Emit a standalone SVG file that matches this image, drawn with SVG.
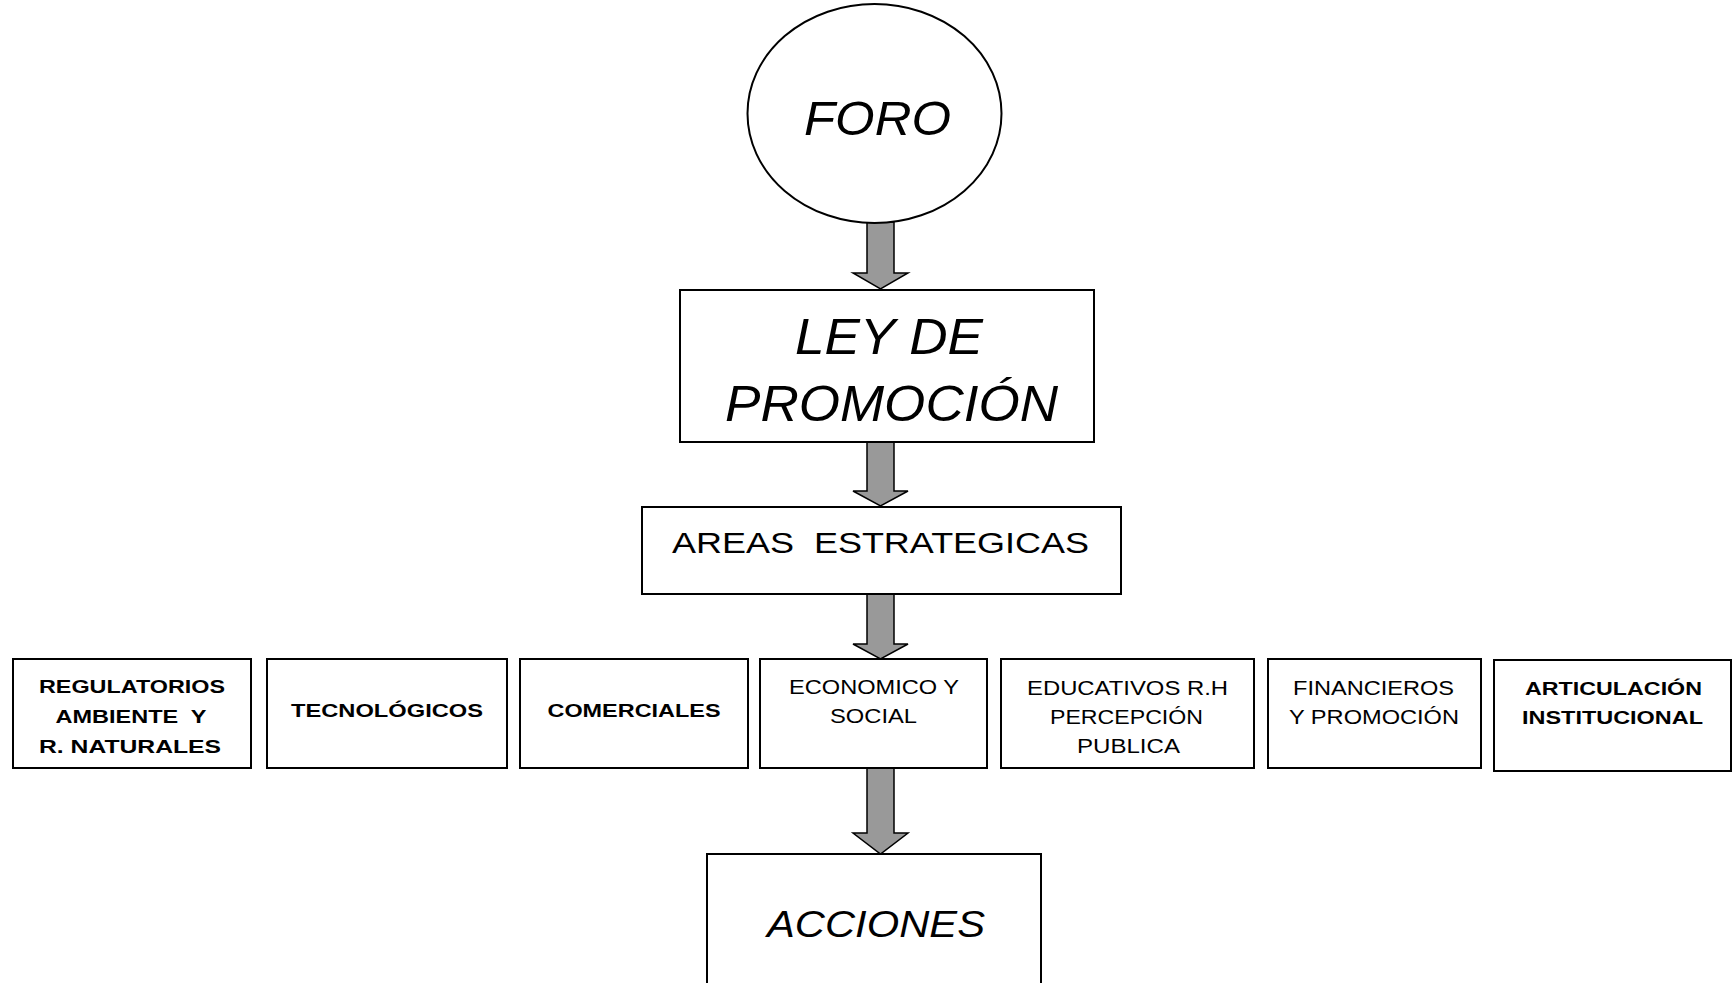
<svg xmlns="http://www.w3.org/2000/svg" width="1735" height="983" viewBox="0 0 1735 983">
<style>
.box{fill:#fff;stroke:#000;stroke-width:2}
.arrow{fill:#999;stroke:#000;stroke-width:1.5;stroke-linejoin:miter}
.big{font-family:"Liberation Sans",Arial,sans-serif;font-style:italic;fill:#000;text-anchor:middle}
.reg{font-family:"Liberation Sans",Arial,sans-serif;font-size:20px;fill:#000;text-anchor:middle}
.bold{font-family:"Liberation Sans",Arial,sans-serif;font-size:18.5px;font-weight:bold;fill:#000;text-anchor:middle}
</style>
<rect width="1735" height="983" fill="#fff"/>
<g id="connectors">
<path class="arrow" d="M867,222 L894,222 L894,273 L908,273 L880.5,289 L853,273 L867,273 Z"/>
<path class="arrow" d="M867,442 L894,442 L894,491 L908,491 L880.5,506 L853,491 L867,491 Z"/>
<path class="arrow" d="M867,594 L894,594 L894,644 L908,644 L880.5,659 L853,644 L867,644 Z"/>
<path class="arrow" d="M867,768 L894,768 L894,833 L908,833 L880.5,854 L853,833 L867,833 Z"/>
</g>
<g id="foro">
<ellipse class="box" cx="874.5" cy="113.5" rx="127" ry="109.5"/>
<text class="big" x="877.5" y="135" font-size="49" textLength="147" lengthAdjust="spacingAndGlyphs">FORO</text>
</g>
<g id="ley">
<rect class="box" x="680" y="290" width="414" height="152"/>
<text class="big" x="889" y="354" font-size="50" textLength="188" lengthAdjust="spacingAndGlyphs" xml:space="preserve">LEY DE</text>
<text class="big" x="891.5" y="421" font-size="50" textLength="333" lengthAdjust="spacingAndGlyphs">PROMOCIÓN</text>
</g>
<g id="areas">
<rect class="box" x="642" y="507" width="479" height="87"/>
<text class="reg" x="880.5" y="553" style="font-size:30px" textLength="417" lengthAdjust="spacingAndGlyphs" xml:space="preserve">AREAS  ESTRATEGICAS</text>
</g>
<g id="regulatorios">
<rect class="box" x="13" y="659" width="238" height="109"/>
<text class="bold" x="132" y="693" textLength="186" lengthAdjust="spacingAndGlyphs">REGULATORIOS</text>
<text class="bold" x="131" y="723" textLength="151" lengthAdjust="spacingAndGlyphs" xml:space="preserve">AMBIENTE  Y</text>
<text class="bold" x="130" y="753" textLength="182" lengthAdjust="spacingAndGlyphs">R. NATURALES</text>
</g>
<g id="tecnologicos">
<rect class="box" x="267" y="659" width="240" height="109"/>
<text class="bold" x="387" y="717" textLength="192" lengthAdjust="spacingAndGlyphs">TECNOLÓGICOS</text>
</g>
<g id="comerciales">
<rect class="box" x="520" y="659" width="228" height="109"/>
<text class="bold" x="634" y="717" textLength="173" lengthAdjust="spacingAndGlyphs">COMERCIALES</text>
</g>
<g id="economico">
<rect class="box" x="760" y="659" width="227" height="109"/>
<text class="reg" x="874" y="694" textLength="170" lengthAdjust="spacingAndGlyphs">ECONOMICO Y</text>
<text class="reg" x="873.5" y="723" textLength="87" lengthAdjust="spacingAndGlyphs">SOCIAL</text>
</g>
<g id="educativos">
<rect class="box" x="1001" y="659" width="253" height="109"/>
<text class="reg" x="1127.5" y="695" textLength="201" lengthAdjust="spacingAndGlyphs">EDUCATIVOS R.H</text>
<text class="reg" x="1126.5" y="724" textLength="153" lengthAdjust="spacingAndGlyphs">PERCEPCIÓN</text>
<text class="reg" x="1128.5" y="753" textLength="103" lengthAdjust="spacingAndGlyphs">PUBLICA</text>
</g>
<g id="financieros">
<rect class="box" x="1268" y="659" width="213" height="109"/>
<text class="reg" x="1373.5" y="695" textLength="161" lengthAdjust="spacingAndGlyphs">FINANCIEROS</text>
<text class="reg" x="1374" y="724" textLength="170" lengthAdjust="spacingAndGlyphs">Y PROMOCIÓN</text>
</g>
<g id="articulacion">
<rect class="box" x="1494" y="660" width="237" height="111"/>
<text class="bold" x="1613.5" y="695" textLength="177" lengthAdjust="spacingAndGlyphs">ARTICULACIÓN</text>
<text class="bold" x="1612.5" y="724" textLength="181" lengthAdjust="spacingAndGlyphs">INSTITUCIONAL</text>
</g>
<g id="acciones">
<rect class="box" x="707" y="854" width="334" height="140"/>
<text class="big" x="876" y="937" font-size="37" textLength="218" lengthAdjust="spacingAndGlyphs">ACCIONES</text>
</g>
</svg>
